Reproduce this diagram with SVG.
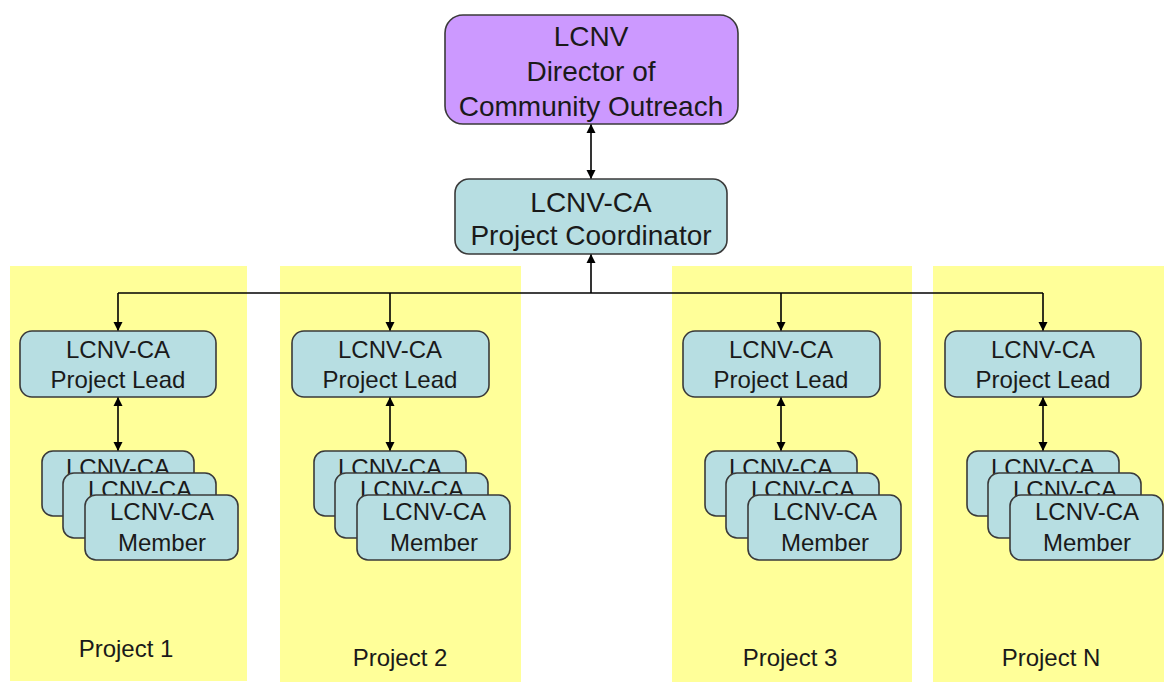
<svg xmlns="http://www.w3.org/2000/svg" width="1167" height="682" viewBox="0 0 1167 682">
<style>
.col{fill:#FFFF99;stroke:none}
.box{fill:#B7DEE2;stroke:#3a3a3a;stroke-width:1.6}
.dir{fill:#CC99FF;stroke:#3a3a3a;stroke-width:1.6}
text{font-family:"Liberation Sans",Arial,sans-serif;fill:#1a1a1a;text-anchor:middle}
.t28{font-size:28px}
.t24{font-size:24px}
.lbl{font-size:24px}
.ln{stroke:#000;stroke-width:1.6;fill:none}
</style>
<defs>
<marker id="ah" viewBox="0 0 10 10" refX="10" refY="5" markerWidth="9" markerHeight="10" markerUnits="userSpaceOnUse" orient="auto-start-reverse">
<path d="M0,0 L10,5 L0,10 z" fill="#000"/>
</marker>
<g id="member-stack">
<rect class="box" x="-76" y="0" width="152" height="65" rx="11"/>
<text class="t24" x="0" y="25">LCNV-CA</text>
<rect class="box" x="-55" y="22" width="153" height="65" rx="11"/>
<text class="t24" x="22" y="47">LCNV-CA</text>
<rect class="box" x="-33" y="44" width="153" height="65" rx="11"/>
<text class="t24" x="44" y="69">LCNV-CA</text>
<text class="t24" x="44" y="100">Member</text>
</g>
</defs>
<rect width="1167" height="682" fill="#fff"/>
<g id="project-1">
<rect class="col" x="10" y="266" width="237" height="415"/>
<text class="lbl" x="126" y="657">Project 1</text>
</g>
<g id="project-2">
<rect class="col" x="280" y="266" width="241" height="416"/>
<text class="lbl" x="400" y="666">Project 2</text>
</g>
<g id="project-3">
<rect class="col" x="672" y="266" width="240" height="416"/>
<text class="lbl" x="790" y="666">Project 3</text>
</g>
<g id="project-n">
<rect class="col" x="933" y="266" width="231" height="416"/>
<text class="lbl" x="1051" y="666">Project N</text>
</g>
<g id="connectors">
<line class="ln" x1="591" y1="124" x2="591" y2="179" marker-start="url(#ah)" marker-end="url(#ah)"/>
<line class="ln" x1="591" y1="293" x2="591" y2="254" marker-end="url(#ah)"/>
<line class="ln" x1="118" y1="293" x2="1043" y2="293"/>
<line class="ln" x1="118" y1="293" x2="118" y2="331" marker-end="url(#ah)"/>
<line class="ln" x1="390" y1="293" x2="390" y2="331" marker-end="url(#ah)"/>
<line class="ln" x1="781" y1="293" x2="781" y2="331" marker-end="url(#ah)"/>
<line class="ln" x1="1043" y1="293" x2="1043" y2="331" marker-end="url(#ah)"/>
<line class="ln" x1="118" y1="397" x2="118" y2="451" marker-start="url(#ah)" marker-end="url(#ah)"/>
<line class="ln" x1="390" y1="397" x2="390" y2="451" marker-start="url(#ah)" marker-end="url(#ah)"/>
<line class="ln" x1="781" y1="397" x2="781" y2="451" marker-start="url(#ah)" marker-end="url(#ah)"/>
<line class="ln" x1="1043" y1="397" x2="1043" y2="451" marker-start="url(#ah)" marker-end="url(#ah)"/>
</g>
<g id="director">
<rect class="dir" x="445" y="15" width="293" height="109" rx="18"/>
<text class="t28" x="591" y="46">LCNV</text>
<text class="t28" x="591" y="81">Director of</text>
<text class="t28" x="591" y="116">Community Outreach</text>
</g>
<g id="coordinator">
<rect class="box" x="455" y="179" width="272" height="75" rx="14"/>
<text class="t28" x="591" y="212">LCNV-CA</text>
<text class="t28" x="591" y="245">Project Coordinator</text>
</g>
<g id="lead-1">
<rect class="box" x="20" y="331" width="196" height="66" rx="12"/>
<text class="t24" x="118" y="358">LCNV-CA</text>
<text class="t24" x="118" y="388">Project Lead</text>
</g>
<g id="lead-2">
<rect class="box" x="292" y="331" width="197" height="66" rx="12"/>
<text class="t24" x="390" y="358">LCNV-CA</text>
<text class="t24" x="390" y="388">Project Lead</text>
</g>
<g id="lead-3">
<rect class="box" x="683" y="331" width="197" height="66" rx="12"/>
<text class="t24" x="781" y="358">LCNV-CA</text>
<text class="t24" x="781" y="388">Project Lead</text>
</g>
<g id="lead-n">
<rect class="box" x="945" y="331" width="196" height="66" rx="12"/>
<text class="t24" x="1043" y="358">LCNV-CA</text>
<text class="t24" x="1043" y="388">Project Lead</text>
</g>
<g id="members-1"><use href="#member-stack" x="118" y="451"/></g>
<g id="members-2"><use href="#member-stack" x="390" y="451"/></g>
<g id="members-3"><use href="#member-stack" x="781" y="451"/></g>
<g id="members-n"><use href="#member-stack" x="1043" y="451"/></g>
</svg>
